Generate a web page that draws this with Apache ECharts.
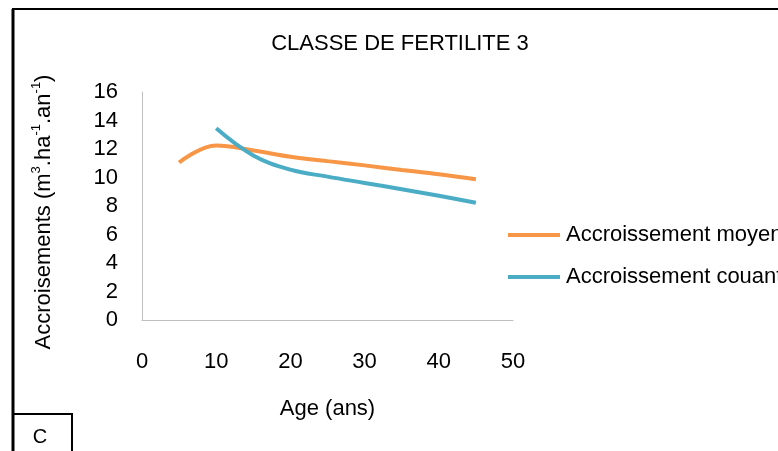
<!DOCTYPE html>
<html>
<head>
<meta charset="utf-8">
<script src="https://cdn.jsdelivr.net/npm/echarts@6/dist/echarts.min.js"></script>
<style>
html,body{margin:0;padding:0;background:#fff;}
#chart{width:778px;height:451px;}
</style>
</head>
<body>
<div id="chart"></div>
<script>
// Data
const titleText = 'CLASSE DE FERTILITE 3';
const seriesNames = ['Accroissement moyen', 'Accroissement couant'];
const agesMoyen = [5, 10, 15, 20, 25, 30, 35, 40, 45];
const valuesMoyen = [11.05, 12.25, 11.9, 11.46, 11.15, 10.85, 10.53, 10.23, 9.87];
const agesCourant = [10, 15, 20, 25, 30, 35, 40, 45];
const valuesCourant = [13.45, 11.55, 10.55, 10.06, 9.62, 9.18, 8.72, 8.23];
const xTicks = [0, 10, 20, 30, 40, 50];
const yTicks = [0, 2, 4, 6, 8, 10, 12, 14, 16];
const xName = 'Age (ans)';
const yNameRich = '{n|Accroisements (m}{s|3}{n|.ha}{s|-1}{n|.an}{s|-1}{n|)}';
const panelLetter = 'C';

const FONT = "'Liberation Sans', Arial, sans-serif";

const chart = echarts.init(document.getElementById('chart'), null, {renderer: 'canvas'});

const moyenData = agesMoyen.map((a, i) => [a, valuesMoyen[i]]);
const courantData = agesCourant.map((a, i) => [a, valuesCourant[i]]);

chart.setOption({
  backgroundColor: '#ffffff',
  animation: false,
  textStyle: {fontFamily: FONT},
  title: {
    text: titleText,
    left: 400,
    textAlign: 'center',
    top: 33,
    padding: 0,
    textStyle: {fontFamily: FONT, fontSize: 22, fontWeight: 'normal', color: '#000'}
  },
  grid: {left: 142, top: 92, width: 371, height: 228, containLabel: false},
  legend: {
    orient: 'vertical',
    left: 508,
    top: 224,
    padding: 0,
    icon: 'rect',
    itemWidth: 52,
    itemHeight: 4,
    itemGap: 20,
    textStyle: {fontFamily: FONT, fontSize: 22, color: '#000', padding: [0, 0, 0, 1]},
    data: seriesNames
  },
  xAxis: {
    type: 'value',
    min: xTicks[0],
    max: xTicks[xTicks.length - 1],
    interval: 10,
    name: xName,
    nameLocation: 'middle',
    nameGap: 78,
    nameTextStyle: {fontFamily: FONT, fontSize: 22, color: '#000'},
    axisLine: {show: true, lineStyle: {color: '#BFBFBF', width: 1}},
    axisTick: {show: false},
    splitLine: {show: false},
    axisLabel: {margin: 31, fontFamily: FONT, fontSize: 22, color: '#000'}
  },
  yAxis: {
    type: 'value',
    min: yTicks[0],
    max: yTicks[yTicks.length - 1],
    interval: 2,
    axisLine: {show: true, lineStyle: {color: '#BFBFBF', width: 1}},
    axisTick: {show: false},
    splitLine: {show: false},
    axisLabel: {margin: 24, fontFamily: FONT, fontSize: 22, color: '#000'}
  },
  series: [
    {
      name: seriesNames[0],
      type: 'line',
      data: moyenData,
      smooth: 0.4,
      symbol: 'none',
      lineStyle: {color: '#F79646', width: 4},
      itemStyle: {color: '#F79646'}
    },
    {
      name: seriesNames[1],
      type: 'line',
      data: courantData,
      smooth: 0.4,
      symbol: 'none',
      lineStyle: {color: '#4BACC6', width: 4},
      itemStyle: {color: '#4BACC6'}
    }
  ],
  graphic: [
    {type: 'line', shape: {x1: 12, y1: 9, x2: 778, y2: 9}, style: {stroke: '#000', lineWidth: 2}},
    {type: 'line', shape: {x1: 13, y1: 9, x2: 13, y2: 451}, style: {stroke: '#000', lineWidth: 3}},
    {type: 'line', shape: {x1: 13, y1: 414, x2: 72, y2: 414}, style: {stroke: '#000', lineWidth: 2}},
    {type: 'line', shape: {x1: 72, y1: 413, x2: 72, y2: 451}, style: {stroke: '#000', lineWidth: 2}},
    {type: 'text', x: 40, y: 437, style: {text: panelLetter, fontFamily: FONT, fontSize: 20, fill: '#000', align: 'center', verticalAlign: 'middle'}},
    {
      type: 'text', x: 42, y: 212, rotation: Math.PI / 2,
      style: {
        text: yNameRich, align: 'center', verticalAlign: 'middle',
        fontFamily: FONT, fontSize: 22, fill: '#000',
        rich: {
          n: {fontFamily: FONT, fontSize: 22, fill: '#000', verticalAlign: 'bottom', lineHeight: 25},
          s: {fontFamily: FONT, fontSize: 13, fill: '#000', verticalAlign: 'top', lineHeight: 25}
        }
      }
    }
  ]
});
</script>
</body>
</html>
